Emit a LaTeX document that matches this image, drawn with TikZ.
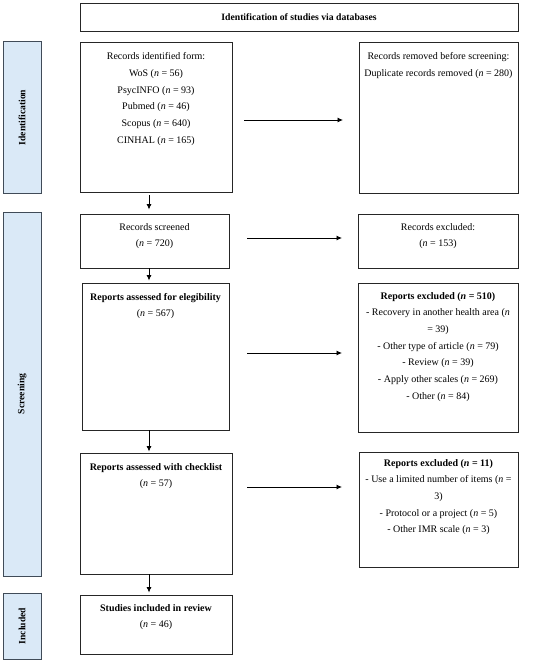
\documentclass[tikz,border=0pt]{standalone}
\usepackage{fontspec}
\setmainfont{Liberation Serif}
\usetikzlibrary{arrows.meta}
\definecolor{barfill}{HTML}{DAE9F7}
\definecolor{barline}{HTML}{404B58}
\tikzset{
  box/.style={draw=black!85, line width=0.9pt, inner sep=0pt},
  bar/.style={draw=barline, fill=barfill, line width=1pt, inner sep=0pt, rotate=90,
              font=\fontsize{9.6}{10}\selectfont\bfseries},
  txt/.style={anchor=north, align=center, inner sep=0pt, font=\fontsize{10}{16.7}\selectfont},
  arr/.style={-{Latex[length=5.5pt,width=5pt]}, line width=0.8pt}
}
\newcommand{\nn}{\textit{n}}
\begin{document}
\begin{tikzpicture}[x=1pt,y=-1pt]
\useasboundingbox[fill=white] (0,0) rectangle (550,663);
% header
\node[box, minimum width=438pt, minimum height=28pt, font=\fontsize{9.7}{10}\selectfont\bfseries] (header) at (299,17) {Identification of studies via databases};
% side bars
\node[bar, minimum width=151pt, minimum height=38pt] (idbar) at (22,117.5) {Identification};
\node[bar, minimum width=364pt, minimum height=38pt] (scrbar) at (22,394) {Screening};
\node[bar, minimum width=66pt, minimum height=38pt] (incbar) at (22,626) {Included};
% boxes
\node[box, minimum width=152pt, minimum height=150pt] (ident) at (156,117) {};
\node[box, minimum width=159pt, minimum height=151pt] (removed) at (438.5,117.5) {};
\node[box, minimum width=149pt, minimum height=54pt] (screened) at (154.5,241) {};
\node[box, minimum width=160pt, minimum height=54pt] (excl1) at (438,241) {};
\node[box, minimum width=147pt, minimum height=147pt] (elig) at (155.5,356.5) {};
\node[box, minimum width=160pt, minimum height=149pt] (excl2) at (438,357.5) {};
\node[box, minimum width=152pt, minimum height=121pt] (check) at (156,513.5) {};
\node[box, minimum width=159pt, minimum height=115pt] (excl3) at (438.5,509.5) {};
\node[box, minimum width=152pt, minimum height=59pt] (incl) at (156,624.5) {};
% texts
\node[txt] (identT) at ([yshift=-11pt]ident.north) {Records identified form:\\WoS (\nn{} = 56)\\PsycINFO (\nn{} = 93)\\Pubmed (\nn{} = 46)\\Scopus (\nn{} = 640)\\CINHAL (\nn{} = 165)};
\node[txt] (removedT) at ([yshift=-11pt]removed.north) {Records removed before screening:\\Duplicate records removed (\nn{} = 280)};
\node[txt] (screenedT) at ([yshift=-9.5pt]screened.north) {Records screened\\(\nn{} = 720)};
\node[txt] (excl1T) at ([yshift=-9.5pt]excl1.north) {Records excluded:\\(\nn{} = 153)};
\node[txt] (eligT) at ([yshift=-10.5pt]elig.north) {\textbf{Reports assessed for elegibility}\\(\nn{} = 567)};
\node[txt] (excl2T) at ([yshift=-9.5pt]excl2.north) {\textbf{Reports excluded (\textit{n} = 510)}\\- Recovery in another health area (\nn\\= 39)\\- Other type of article (\nn{} = 79)\\- Review (\nn{} = 39)\\- Apply other scales (\nn{} = 269)\\- Other (\nn{} = 84)};
\node[txt] (checkT) at ([yshift=-10.5pt]check.north) {\textbf{Reports assessed with checklist}\\(\nn{} = 57)};
\node[txt] (excl3T) at ([yshift=-7.5pt]excl3.north) {\textbf{Reports excluded (\textit{n} = 11)}\\- Use a limited number of items (\nn{} =\\3)\\- Protocol or a project (\nn{} = 5)\\- Other IMR scale (\nn{} = 3)};
\node[txt] (inclT) at ([yshift=-9.5pt]incl.north) {\textbf{Studies included in review}\\(\nn{} = 46)};
% horizontal arrows
\coordinate (h1s) at (244,120); \coordinate (h1e) at (343,120);
\coordinate (h2s) at (247,238); \coordinate (h2e) at (342,238);
\coordinate (h3s) at (247,353); \coordinate (h3e) at (342,353);
\coordinate (h4s) at (247,487); \coordinate (h4e) at (342,487);
\draw[arr] (h1s) -- (h1e);
\draw[arr] (h2s) -- (h2e);
\draw[arr] (h3s) -- (h3e);
\draw[arr] (h4s) -- (h4e);
% vertical arrows
\coordinate (col) at (149,0);
\draw[arr, shorten <=3pt, shorten >=4pt] (ident.south -| col) -- (screened.north -| col);
\draw[arr] (screened.south -| col) -- ([yshift=2pt]elig.north -| col);
\draw[arr] (elig.south -| col) -- ([yshift=1pt]check.north -| col);
\draw[arr, shorten >=2pt] (check.south -| col) -- (incl.north -| col);
\end{tikzpicture}
\end{document}
